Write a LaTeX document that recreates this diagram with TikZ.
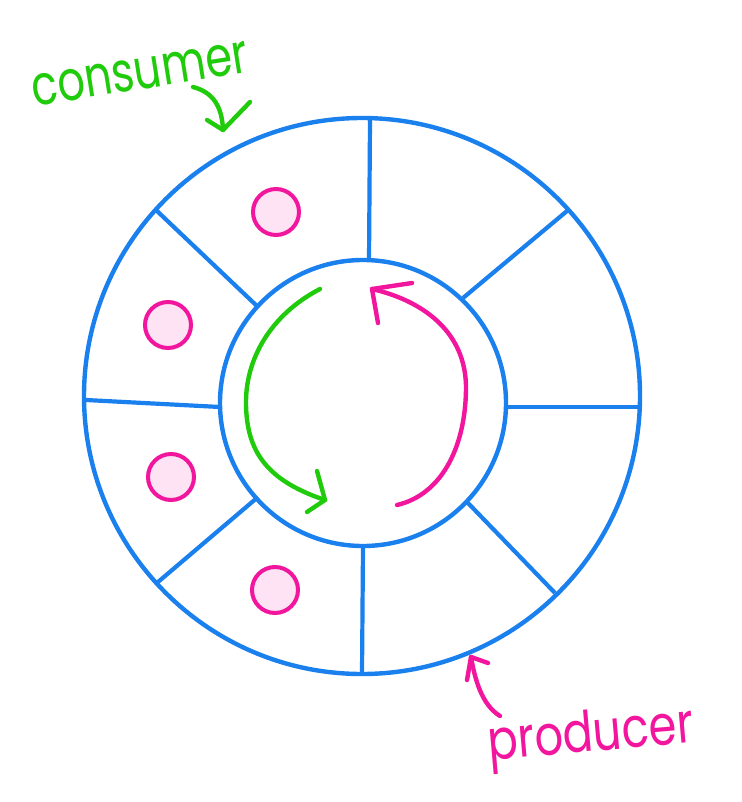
\documentclass[tikz,border=0pt]{standalone}
\usepackage{fontspec}
\setmainfont{Poppins}
\definecolor{ringblue}{HTML}{1A80EE}
\definecolor{cgreen}{HTML}{1FCB0A}
\definecolor{pmag}{HTML}{F2169E}
\definecolor{dotfill}{HTML}{FDE3F4}
\begin{document}
\begin{tikzpicture}[x=1pt,y=-1pt,
  ring/.style={draw=ringblue,line width=4.4pt},
  spoke/.style={ringblue,line width=4.2pt},
  slotdot/.style={circle,draw=pmag,fill=dotfill,line width=4pt,minimum size=46pt,inner sep=0pt},
  gstroke/.style={cgreen,line width=4.4pt,line cap=round,line join=round},
  pstroke/.style={pmag,line width=4.4pt,line cap=round,line join=round},
  lbl/.style={inner sep=0pt}]
\useasboundingbox (0,0) rectangle (741,802);
% rings
\draw[ring] (362,396) circle (278);
\draw[ring] (363,403) circle (143);
% spokes
\draw[spoke] (370,120) -- (369,261);
\draw[spoke] (567,211) -- (463,298);
\draw[spoke] (639,407) -- (506,407);
\draw[spoke] (555,593) -- (467,502);
\draw[spoke] (362,673) -- (363,546);
\draw[spoke] (158,582) -- (258,497);
\draw[spoke] (86,400) -- (220,407);
\draw[spoke] (157,211) -- (258,307);
% slots with items
\node[slotdot] (d1) at (276,212) {};
\node[slotdot] (d2) at (168,325) {};
\node[slotdot] (d3) at (171,477) {};
\node[slotdot] (d4) at (275,590) {};
% consumer cycle arrow (green)
\coordinate (gs) at (320,289);
\coordinate (gt) at (325,500);
\draw[gstroke] (gs) .. controls (270,315) and (245,360) .. (246,405)
  .. controls (247,450) and (265,480) .. (gt);
\draw[gstroke] (317,471) -- (gt) -- (307,512);
% producer cycle arrow (magenta)
\coordinate (ps) at (397,505);
\coordinate (pt) at (372,289);
\draw[pstroke] (ps) .. controls (440,495) and (465,450) .. (466,390)
  .. controls (467,330) and (420,300) .. (pt);
\draw[pstroke] (412,283) -- (pt) -- (378,323);
% labels
\node[lbl,text=cgreen,rotate=9,xscale=0.77] (cons) at (140,74) {\fontsize{56}{60}\selectfont consumer};
\node[lbl,text=pmag,rotate=5,xscale=0.8] (prod) at (591,738) {\fontsize{56}{60}\selectfont producer};
% label arrows
\coordinate (ca) at (223,130);
\draw[gstroke] (193,87) .. controls (212,92) and (222,105) .. (ca);
\draw[gstroke] (207,120) -- (ca) -- (250,102);
\coordinate (pa) at (471,657);
\draw[pstroke] (500,716) .. controls (482,705) and (475,680) .. (pa);
\draw[pstroke] (467,680) -- (pa) -- (488,663);
\end{tikzpicture}
\end{document}
